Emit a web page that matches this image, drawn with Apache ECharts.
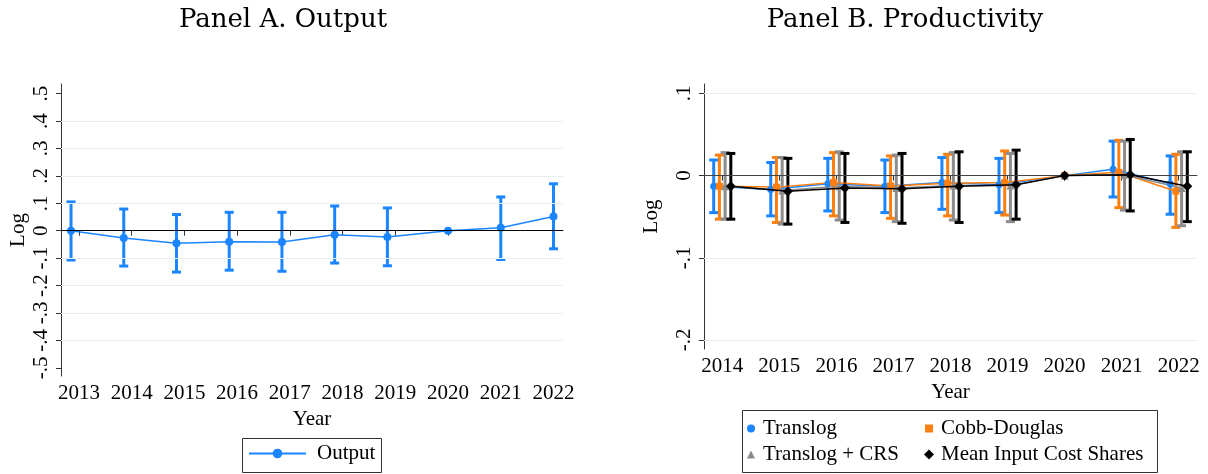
<!DOCTYPE html>
<html><head><meta charset="utf-8">
<script src="https://cdn.jsdelivr.net/npm/echarts@6/dist/echarts.min.js"></script>
<style>html,body{margin:0;padding:0;background:#fff}#c{width:1208px;height:474px}</style>
</head><body><div id="c"></div>
<script>
// ---------- Panel A data ----------
const yearsA = [2013, 2014, 2015, 2016, 2017, 2018, 2019, 2020, 2021, 2022];
const outputX = [2012.85, 2013.85, 2014.85, 2015.85, 2016.85, 2017.85, 2018.85, 2020, 2021, 2022];
const outputY = [0.0, -0.027, -0.046, -0.040, -0.041, -0.015, -0.023, 0, 0.011, 0.052];
const outputLo = [-0.107, -0.129, -0.151, -0.144, -0.148, -0.118, -0.128, null, -0.105, -0.066];
const outputHi = [0.105, 0.079, 0.059, 0.067, 0.067, 0.090, 0.083, null, 0.123, 0.171];
const yTicksA = [-0.5, -0.4, -0.3, -0.2, -0.1, 0, 0.1, 0.2, 0.3, 0.4, 0.5];

// ---------- Panel B data ----------
const yearsB = [2014, 2015, 2016, 2017, 2018, 2019, 2020, 2021, 2022];
const yTicksB = [-0.2, -0.1, 0, 0.1];
const translogX = [2013.85, 2014.85, 2015.85, 2016.85, 2017.85, 2018.85, 2020, 2020.85, 2021.85];
const translogY = [-0.013, -0.017, -0.010, -0.013, -0.0085, -0.011, 0, 0.0077, -0.010];
const translogLo = [-0.045, -0.049, -0.043, -0.045, -0.041, -0.045, null, -0.026, -0.047];
const translogHi = [0.019, 0.016, 0.021, 0.019, 0.022, 0.021, null, 0.042, 0.024];
const cobbX = [2013.95, 2014.95, 2015.95, 2016.95, 2017.95, 2018.95, 2020, 2020.95, 2021.95];
const cobbY = [-0.013, -0.014, -0.0085, -0.0126, -0.0093, -0.0085, 0, 0.004, -0.019];
const cobbLo = [-0.053, -0.057, -0.049, -0.052, -0.049, -0.048, null, -0.039, -0.063];
const cobbHi = [0.025, 0.022, 0.028, 0.024, 0.026, 0.030, null, 0.043, 0.026];
const crsX = [2014.05, 2015.05, 2016.05, 2017.05, 2018.05, 2019.05, 2020, 2021.05, 2022.05];
const crsY = [-0.013, -0.018, -0.013, -0.015, -0.012, -0.012, 0, 0.001, -0.015];
const crsLo = [-0.053, -0.059, -0.054, -0.056, -0.054, -0.056, null, -0.042, -0.061];
const crsHi = [0.028, 0.022, 0.029, 0.025, 0.028, 0.027, null, 0.042, 0.029];
const meanX = [2014.15, 2015.15, 2016.15, 2017.15, 2018.15, 2019.15, 2020, 2021.15, 2022.15];
const meanY = [-0.013, -0.019, -0.015, -0.016, -0.013, -0.011, 0, 0.001, -0.013];
const meanLo = [-0.053, -0.059, -0.057, -0.058, -0.057, -0.053, null, -0.043, -0.056];
const meanHi = [0.027, 0.021, 0.027, 0.027, 0.029, 0.031, null, 0.044, 0.029];

// ---------- styling ----------
const SERIF = '"Liberation Serif", "Times New Roman", serif';
const TITLE_FONT = '"DejaVu Serif", serif';
const FS = 21;
const BLUE = '#1a85ff', ORANGE = '#ff7f0e', GRAY = '#8c8c8c', BLACK = '#000000';
const AXIS_COLOR = '#333333';
const GRID_COLOR = '#e8eff2';

function statFmt(v) {
  const r = Math.round(v * 10) / 10;
  if (r === 0) return '0';
  let s = r.toFixed(1);
  return s.replace(/^(-?)0\./, '$1.');
}

function pts(xs, ys) { return xs.map((x, i) => [x, ys[i]]); }
function bars(xs, lo, hi) { return xs.map((x, i) => [x, lo[i], hi[i]]); }

function errorBarSeries(xIdx, yIdx, data, color, z) {
  return {
    type: 'custom', xAxisIndex: xIdx, yAxisIndex: yIdx, z: z, silent: true,
    data: data,
    encode: { x: 0, y: [1, 2] },
    renderItem: function (params, api) {
      const x = api.value(0), lo = api.value(1), hi = api.value(2);
      if (lo == null || hi == null || isNaN(lo) || isNaN(hi)) return null;
      const p1 = api.coord([x, hi]);
      const p2 = api.coord([x, lo]);
      const hw = 4.5;
      const st = { stroke: color, lineWidth: 3, lineCap: 'butt' };
      return {
        type: 'group',
        children: [
          { type: 'line', shape: { x1: p1[0], y1: p1[1], x2: p2[0], y2: p2[1] }, style: st },
          { type: 'line', shape: { x1: p1[0] - hw, y1: p1[1], x2: p1[0] + hw, y2: p1[1] }, style: st },
          { type: 'line', shape: { x1: p2[0] - hw, y1: p2[1], x2: p2[0] + hw, y2: p2[1] }, style: st }
        ]
      };
    }
  };
}

function refLines(ticks, zeroColor, skip) {
  const data = ticks.filter(v => v !== 0 && skip.indexOf(v) < 0).map(v => ({ yAxis: v, lineStyle: { color: GRID_COLOR, width: 1, type: 'solid' } }));
  data.push({ yAxis: 0, lineStyle: { color: zeroColor, width: 1, type: 'solid' } });
  return { silent: true, symbol: 'none', label: { show: false }, animation: false, data: data };
}

function xAxisCfg(gridIndex, min, max, years, gap) {
  return {
    type: 'value', gridIndex: gridIndex, min: min, max: max,
    name: 'Year', nameLocation: 'middle', nameGap: gap,
    nameTextStyle: { fontFamily: SERIF, fontSize: FS, color: '#000' },
    axisLine: { show: true, lineStyle: { color: AXIS_COLOR, width: 1 } },
    axisTick: { show: true, length: 5, lineStyle: { color: AXIS_COLOR }, customValues: years },
    axisLabel: { fontFamily: SERIF, fontSize: FS, color: '#000', margin: 7, customValues: years, formatter: v => String(Math.round(v)) },
    splitLine: { show: false }
  };
}
function yAxisCfg(gridIndex, min, max, ticks, gap) {
  return {
    type: 'value', gridIndex: gridIndex, min: min, max: max,
    name: 'Log', nameLocation: 'middle', nameGap: gap, nameRotate: 90,
    nameTextStyle: { fontFamily: SERIF, fontSize: FS, color: '#000' },
    axisLine: { show: true, lineStyle: { color: AXIS_COLOR, width: 1 } },
    axisTick: { show: true, length: 5, lineStyle: { color: AXIS_COLOR }, customValues: ticks },
    axisLabel: { fontFamily: SERIF, fontSize: FS, color: '#000', margin: 9, rotate: 90, customValues: ticks, formatter: statFmt },
    splitLine: { show: false }
  };
}

const chart = echarts.init(document.getElementById('c'), null, { renderer: 'canvas' });

const legendText = { fontFamily: SERIF, fontSize: FS, color: '#000' };

const option = {
  backgroundColor: '#ffffff',
  animation: false,
  title: [
    { text: 'Panel A. Output', left: 283, top: 7, textAlign: 'center', padding: 0,
      textStyle: { fontFamily: TITLE_FONT, fontSize: 26, fontWeight: 'normal', color: '#000' } },
    { text: 'Panel B. Productivity', left: 905, top: 7, textAlign: 'center', padding: 0,
      textStyle: { fontFamily: TITLE_FONT, fontSize: 26, fontWeight: 'normal', color: '#000' } }
  ],
  grid: [
    { left: 61, top: 84, width: 502, height: 292, containLabel: false },
    { left: 704, top: 84, width: 493, height: 265, containLabel: false }
  ],
  xAxis: [
    xAxisCfg(0, 2012.66, 2022.18, yearsA, 30),
    xAxisCfg(1, 2013.68, 2022.32, yearsB, 29)
  ],
  yAxis: [
    yAxisCfg(0, -0.53, 0.535, yTicksA, 32),
    yAxisCfg(1, -0.211, 0.1115, yTicksB, 42)
  ],
  legend: [
    { data: ['Output'], left: 248, top: 443, itemWidth: 57, itemHeight: 12, padding: 0,
      textStyle: Object.assign({ padding: [0, 0, 0, 6] }, legendText), selectedMode: false },
    { data: [{ name: 'Translog', icon: 'circle' }], left: 747, top: 418, itemWidth: 8, itemHeight: 8, padding: 0,
      textStyle: Object.assign({ padding: [0, 0, 0, 3] }, legendText), selectedMode: false },
    { data: [{ name: 'Cobb-Douglas', icon: 'rect' }], left: 925, top: 418, itemWidth: 8, itemHeight: 8, padding: 0,
      textStyle: Object.assign({ padding: [0, 0, 0, 3] }, legendText), selectedMode: false },
    { data: [{ name: 'Translog + CRS', icon: 'triangle' }], left: 747, top: 444, itemWidth: 8, itemHeight: 8, padding: 0,
      textStyle: Object.assign({ padding: [0, 0, 0, 3] }, legendText), selectedMode: false },
    { data: [{ name: 'Mean Input Cost Shares', icon: 'diamond' }], left: 924, top: 444, itemWidth: 10, itemHeight: 10, padding: 0,
      textStyle: Object.assign({ padding: [0, 0, 0, 2] }, legendText), selectedMode: false }
  ],
  graphic: [
    { type: 'rect', shape: { x: 242.5, y: 438.5, width: 139, height: 34 }, style: { fill: 'none', stroke: '#333', lineWidth: 1 }, silent: true },
    { type: 'rect', shape: { x: 742.5, y: 410.5, width: 415, height: 62 }, style: { fill: 'none', stroke: '#333', lineWidth: 1 }, silent: true }
  ],
  series: [
    // Panel A
    { type: 'line', name: 'refA', xAxisIndex: 0, yAxisIndex: 0, data: [], z: 1, markLine: refLines(yTicksA, '#000', [-0.5, 0.5]) },
    errorBarSeries(0, 0, bars(outputX, outputLo, outputHi), BLUE, 3),
    { type: 'line', name: 'Output', xAxisIndex: 0, yAxisIndex: 0, data: pts(outputX, outputY), z: 4,
      symbol: 'circle', symbolSize: 8, showSymbol: true, itemStyle: { color: BLUE }, lineStyle: { color: BLUE, width: 1.5 } },
    // Panel B
    { type: 'line', name: 'refB', xAxisIndex: 1, yAxisIndex: 1, data: [], z: 1, markLine: refLines(yTicksB, '#444', []) },
    errorBarSeries(1, 1, bars(translogX, translogLo, translogHi), BLUE, 3),
    errorBarSeries(1, 1, bars(cobbX, cobbLo, cobbHi), ORANGE, 3),
    errorBarSeries(1, 1, bars(crsX, crsLo, crsHi), GRAY, 3),
    errorBarSeries(1, 1, bars(meanX, meanLo, meanHi), BLACK, 3),
    { type: 'line', name: 'Translog', xAxisIndex: 1, yAxisIndex: 1, data: pts(translogX, translogY), z: 4,
      symbol: 'circle', symbolSize: 7, itemStyle: { color: BLUE }, lineStyle: { color: BLUE, width: 1.5 } },
    { type: 'line', name: 'Cobb-Douglas', xAxisIndex: 1, yAxisIndex: 1, data: pts(cobbX, cobbY), z: 4,
      symbol: 'rect', symbolSize: 7, itemStyle: { color: ORANGE }, lineStyle: { color: ORANGE, width: 1.5 } },
    { type: 'line', name: 'Translog + CRS', xAxisIndex: 1, yAxisIndex: 1, data: pts(crsX, crsY), z: 4,
      symbol: 'triangle', symbolSize: 8, itemStyle: { color: GRAY }, lineStyle: { color: GRAY, width: 1.5 } },
    { type: 'line', name: 'Mean Input Cost Shares', xAxisIndex: 1, yAxisIndex: 1, data: pts(meanX, meanY), z: 5,
      symbol: 'diamond', symbolSize: 10, itemStyle: { color: BLACK }, lineStyle: { color: BLACK, width: 1.5 } }
  ]
};
chart.setOption(option);
</script>
</body></html>
